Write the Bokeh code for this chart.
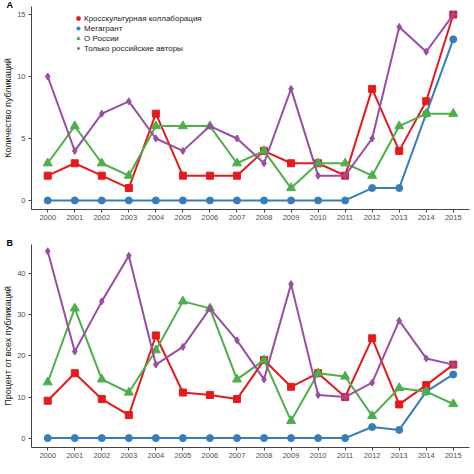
from bokeh.plotting import figure
from bokeh.models import Range1d, Legend, LegendItem, Title, FixedTicker
from bokeh.layouts import column
from bokeh.embed import file_html
from bokeh.resources import INLINE

years = [2000, 2001, 2002, 2003, 2004, 2005, 2006, 2007,
         2008, 2009, 2010, 2011, 2012, 2013, 2014, 2015]

series_names = ["Кросскультурная коллаборация", "Мегагрант", "О России", "Только российские авторы"]

cross_count = [2, 3, 2, 1, 7, 2, 2, 2, 4, 3, 3, 2, 9, 4, 8, 15]
mega_count = [0, 0, 0, 0, 0, 0, 0, 0, 0, 0, 0, 0, 1, 1, 7, 13]
russia_count = [3, 6, 3, 2, 6, 6, 6, 3, 4, 1, 3, 3, 2, 6, 7, 7]
ru_only_count = [10, 4, 7, 8, 5, 4, 6, 5, 3, 9, 2, 2, 5, 14, 12, 15]

cross_pct = [9.1, 15.8, 9.5, 5.6, 25.0, 11.1, 10.5, 9.5, 19.0, 12.5, 15.8, 10.0, 24.3, 8.2, 12.9, 17.9]
mega_pct = [0, 0, 0, 0, 0, 0, 0, 0, 0, 0, 0, 0, 2.7, 2.0, 11.3, 15.5]
russia_pct = [13.6, 31.6, 14.3, 11.1, 21.4, 33.3, 31.6, 14.3, 19.0, 4.2, 15.8, 15.0, 5.4, 12.2, 11.3, 8.3]
ru_only_pct = [45.5, 21.1, 33.3, 44.4, 17.9, 22.2, 31.6, 23.8, 14.3, 37.5, 10.5, 10.0, 13.5, 28.6, 19.4, 17.9]

yticks_a = [0, 5, 10, 15]
yticks_b = [0, 10, 20, 30, 40]

colors = ["#E41A1C", "#377EB8", "#4DAF4A", "#984EA3"]
markers = ["square", "circle", "triangle", "diamond"]
msizes = [7, 7, 9, 7]

FONT = "Liberation Sans"
LEFT = 30
RIGHT = 5
XSTART, XEND = 1999.4, 2015.6


def make_panel(height, bottom, yrange, yticks, ylabel, series, letter, legend):
    title = Title(text=letter, align="left", offset=-25, standoff=-6,
                  text_font=FONT, text_font_size="9px", text_font_style="bold",
                  text_color="black")
    p = figure(width=474, height=height, output_backend="svg", toolbar_location=None,
               x_range=Range1d(XSTART, XEND), y_range=Range1d(*yrange),
               min_border_left=LEFT, min_border_right=RIGHT, min_border_top=0,
               min_border_bottom=bottom, background_fill_color="white",
               border_fill_color="white", title=title)
    p.outline_line_color = None
    p.xgrid.visible = False
    p.ygrid.visible = False
    for ax in (p.xaxis[0], p.yaxis[0]):
        ax.axis_line_color = "#444444"
        ax.axis_line_width = 1
        ax.major_tick_line_color = "#444444"
        ax.major_tick_out = 3
        ax.major_tick_in = 0
        ax.minor_tick_line_color = None
        ax.major_label_text_font = FONT
        ax.major_label_text_font_size = "7.5px"
        ax.major_label_text_color = "#4d4d4d"
    p.xaxis.major_label_standoff = 2
    p.yaxis.major_label_standoff = 3
    p.xaxis.ticker = FixedTicker(ticks=years)
    p.yaxis.ticker = FixedTicker(ticks=yticks)
    p.yaxis.axis_label = ylabel
    p.yaxis.axis_label_text_font = FONT
    p.yaxis.axis_label_text_font_size = "9px"
    p.yaxis.axis_label_text_font_style = "normal"
    p.yaxis.axis_label_text_color = "#222222"
    p.yaxis.axis_label_standoff = 1

    items = []
    for name, vals, c, m, s in zip(series_names, series, colors, markers, msizes):
        p.line(years, vals, line_color=c, line_width=2)
        r = p.scatter(years, vals, marker=m, size=s, fill_color=c, line_color=c)
        items.append(LegendItem(label=name, renderers=[r]))

    if legend:
        frame_h = height - bottom - 6
        lg = Legend(items=items, location=(43, frame_h - 47), padding=0, margin=0,
                    spacing=0, glyph_width=8, glyph_height=10, label_height=10,
                    label_standoff=2, label_text_font=FONT, label_text_font_size="8px",
                    label_text_color="#222222", background_fill_alpha=0,
                    border_line_color=None)
        p.add_layout(lg)
    return p


pa = make_panel(238, 29, (-0.73, 15.65), yticks_a, "Количество публикаций",
                [cross_count, mega_count, russia_count, ru_only_count], "A", True)
pb = make_panel(236, 27, (-2.29, 47.15), yticks_b, "Процент от всех публикаций",
                [cross_pct, mega_pct, russia_pct, ru_only_pct], "B", False)

layout = column(pa, pb, spacing=0)
open("out.html", "w").write(file_html(layout, INLINE))
